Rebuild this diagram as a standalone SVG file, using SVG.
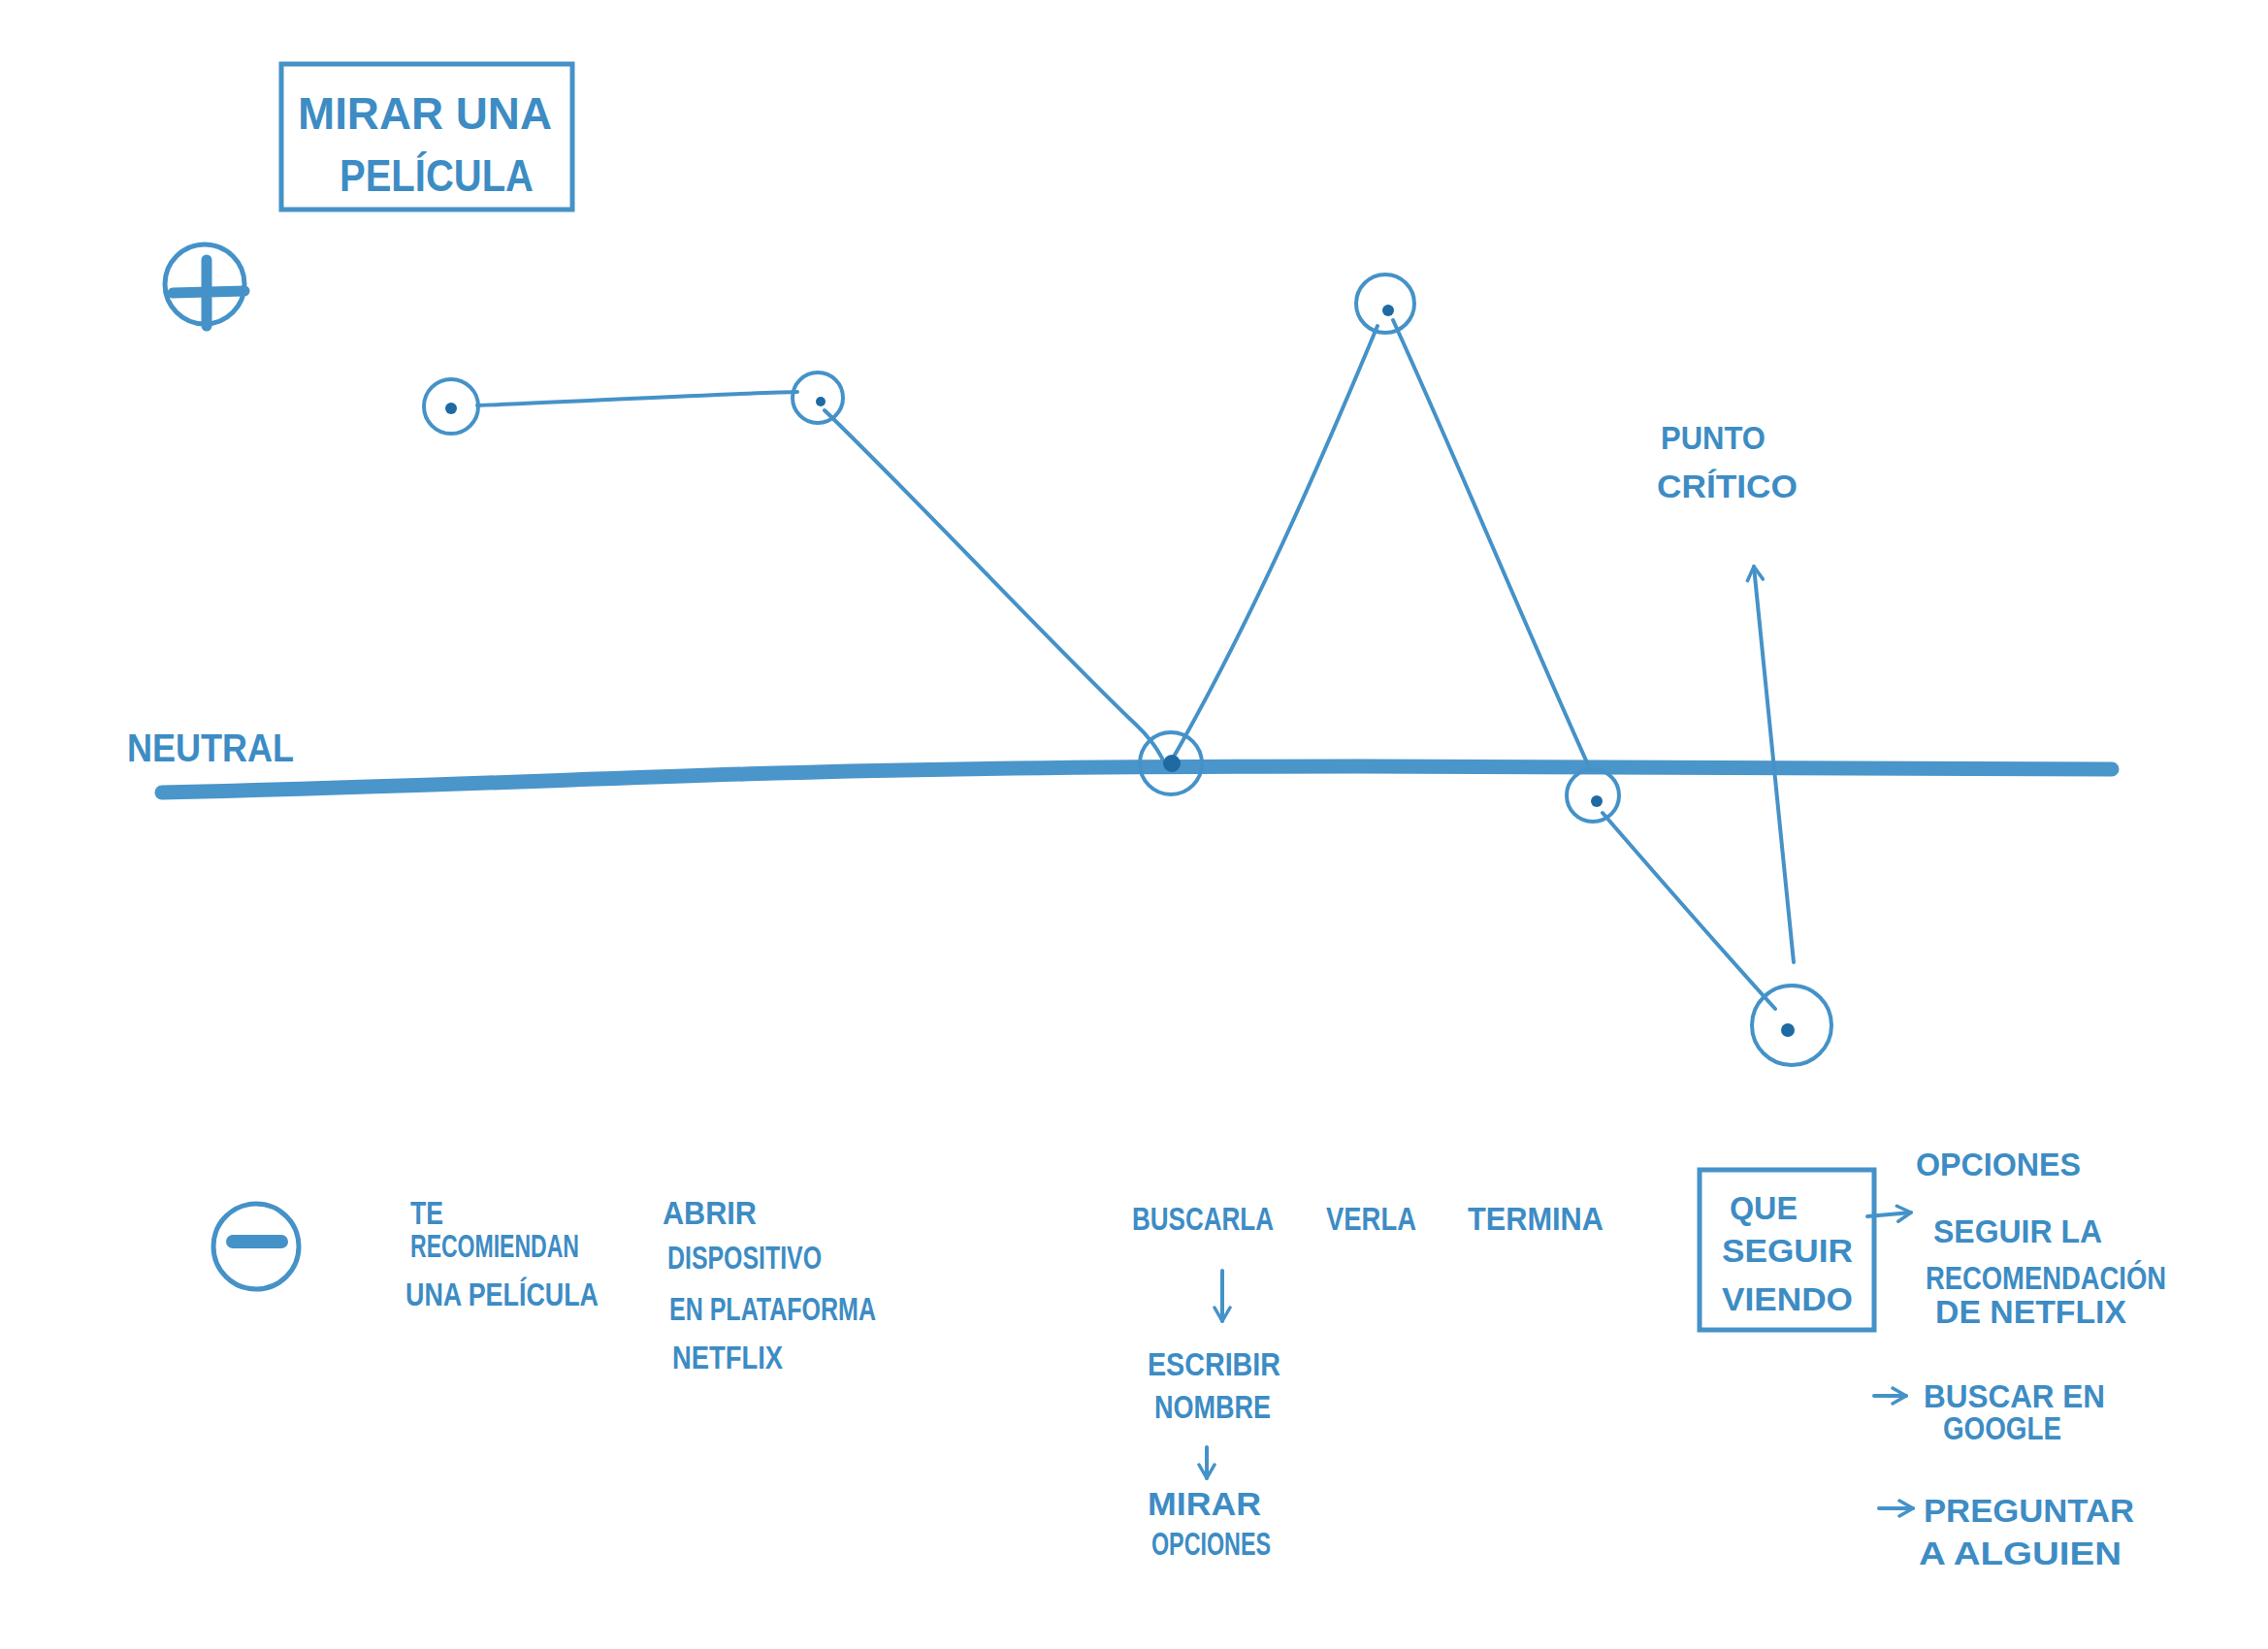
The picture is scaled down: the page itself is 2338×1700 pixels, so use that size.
<svg xmlns="http://www.w3.org/2000/svg" width="2338" height="1700" viewBox="0 0 2338 1700">
<defs>
<style>
.ink{fill:none;stroke:#4592c8;stroke-width:4;stroke-linecap:round;stroke-linejoin:round}
.box{fill:none;stroke:#4592c8;stroke-width:5}
.t{font-family:"Liberation Sans",Arial,sans-serif;fill:#3d8cc4;font-size:33px;font-weight:bold}
.big{font-size:46px}
.dot{fill:#1f6aa3}
</style>
<marker id="ah" viewBox="0 0 20 20" refX="16" refY="10" markerWidth="20" markerHeight="20" markerUnits="userSpaceOnUse" orient="auto">
<path d="M2,2 L16,10 L2,18" fill="none" stroke="#4592c8" stroke-width="3.5" stroke-linecap="round" stroke-linejoin="round"/>
</marker>
</defs>
<rect width="2338" height="1700" fill="#ffffff"/>

<g id="title">
<rect x="290" y="66" width="300" height="150" class="box"/>
<text class="t big" x="307" y="133" textLength="262" lengthAdjust="spacingAndGlyphs">MIRAR UNA</text>
<text class="t big" x="350" y="197" textLength="200" lengthAdjust="spacingAndGlyphs">PELÍCULA</text>
</g>

<g id="plus">
<circle cx="211" cy="293" r="41" class="ink" style="stroke-width:5"/>
<path d="M178,302 L252,300 M213,268 L213,336" class="ink" style="stroke-width:11"/>
</g>

<g id="minus">
<circle cx="264" cy="1285" r="44" class="ink" style="stroke-width:5"/>
<path d="M240,1280 L290,1280" class="ink" style="stroke-width:14"/>
</g>

<g id="neutral">
<path d="M167,817 C400,812 600,803 800,797 C1000,791 1193,790 1400,790 C1700,791 2000,793 2177,793" fill="none" stroke="#4a95ca" stroke-width="15" stroke-linecap="round"/>
<text class="t" x="131" y="785" style="font-size:40px" textLength="172" lengthAdjust="spacingAndGlyphs">NEUTRAL</text>
</g>

<g id="connectors">
<path d="M492,418 C600,414 740,406 822,404" class="ink"/>
<path d="M850,423 C950,520 1100,680 1170,746 C1185,760 1195,775 1200,786" class="ink"/>
<path d="M1210,780 C1290,640 1360,480 1420,336" class="ink"/>
<path d="M1436,330 C1500,470 1570,640 1640,795" class="ink"/>
<path d="M1652,838 C1710,905 1780,985 1830,1040" class="ink"/>
<path d="M1849,992 L1808,584" class="ink" marker-end="url(#ah)"/>
<path d="M1260,1310 L1260,1362" class="ink" marker-end="url(#ah)"/>
<path d="M1244,1492 L1244,1524" class="ink" marker-end="url(#ah)"/>
<path d="M1925,1254 L1970,1250" class="ink" marker-end="url(#ah)"/>
<path d="M1932,1439 L1965,1439" class="ink" marker-end="url(#ah)"/>
<path d="M1937,1555 L1972,1555" class="ink" marker-end="url(#ah)"/>
</g>

<g id="p1"><circle cx="465" cy="419" r="28" class="ink"/><circle cx="465" cy="421" r="6" class="dot"/></g>
<g id="p2"><circle cx="843" cy="410" r="26" class="ink"/><circle cx="846" cy="414" r="5" class="dot"/></g>
<g id="p3"><circle cx="1207" cy="787" r="32" class="ink"/><circle cx="1208" cy="787" r="9" class="dot"/></g>
<g id="p4"><circle cx="1428" cy="313" r="30" class="ink"/><circle cx="1431" cy="320" r="6" class="dot"/></g>
<g id="p5"><circle cx="1642" cy="820" r="27" class="ink"/><circle cx="1646" cy="826" r="6" class="dot"/></g>
<g id="p6"><circle cx="1847" cy="1057" r="41" class="ink"/><circle cx="1843" cy="1062" r="7" class="dot"/></g>

<g id="critico">
<text class="t" x="1712" y="463" textLength="108" lengthAdjust="spacingAndGlyphs">PUNTO</text>
<text class="t" x="1708" y="513" textLength="145" lengthAdjust="spacingAndGlyphs">CRÍTICO</text>
</g>

<g id="step1">
<text class="t" x="423" y="1262" textLength="34" lengthAdjust="spacingAndGlyphs">TE</text>
<text class="t" x="423" y="1296" textLength="174" lengthAdjust="spacingAndGlyphs">RECOMIENDAN</text>
<text class="t" x="418" y="1346" textLength="199" lengthAdjust="spacingAndGlyphs">UNA PELÍCULA</text>
</g>

<g id="step2">
<text class="t" x="683" y="1262" textLength="97" lengthAdjust="spacingAndGlyphs">ABRIR</text>
<text class="t" x="688" y="1308" textLength="159" lengthAdjust="spacingAndGlyphs">DISPOSITIVO</text>
<text class="t" x="690" y="1361" textLength="213" lengthAdjust="spacingAndGlyphs">EN PLATAFORMA</text>
<text class="t" x="693" y="1411" textLength="114" lengthAdjust="spacingAndGlyphs">NETFLIX</text>
</g>

<g id="step3">
<text class="t" x="1167" y="1268" textLength="146" lengthAdjust="spacingAndGlyphs">BUSCARLA</text>
<text class="t" x="1183" y="1418" textLength="137" lengthAdjust="spacingAndGlyphs">ESCRIBIR</text>
<text class="t" x="1190" y="1462" textLength="120" lengthAdjust="spacingAndGlyphs">NOMBRE</text>
<text class="t" x="1183" y="1562" textLength="117" lengthAdjust="spacingAndGlyphs">MIRAR</text>
<text class="t" x="1187" y="1603" textLength="123" lengthAdjust="spacingAndGlyphs">OPCIONES</text>
</g>

<g id="step4"><text class="t" x="1367" y="1268" textLength="93" lengthAdjust="spacingAndGlyphs">VERLA</text></g>
<g id="step5"><text class="t" x="1513" y="1268" textLength="140" lengthAdjust="spacingAndGlyphs">TERMINA</text></g>

<g id="step6">
<rect x="1752" y="1206" width="180" height="165" class="box"/>
<text class="t" x="1783" y="1257" textLength="70" lengthAdjust="spacingAndGlyphs">QUE</text>
<text class="t" x="1775" y="1301" textLength="135" lengthAdjust="spacingAndGlyphs">SEGUIR</text>
<text class="t" x="1775" y="1351" textLength="135" lengthAdjust="spacingAndGlyphs">VIENDO</text>
</g>

<g id="options">
<text class="t" x="1975" y="1212" textLength="170" lengthAdjust="spacingAndGlyphs">OPCIONES</text>
<text class="t" x="1993" y="1281" textLength="174" lengthAdjust="spacingAndGlyphs">SEGUIR LA</text>
<text class="t" x="1985" y="1329" textLength="248" lengthAdjust="spacingAndGlyphs">RECOMENDACIÓN</text>
<text class="t" x="1995" y="1364" textLength="197" lengthAdjust="spacingAndGlyphs">DE NETFLIX</text>
<text class="t" x="1983" y="1451" textLength="187" lengthAdjust="spacingAndGlyphs">BUSCAR EN</text>
<text class="t" x="2003" y="1484" textLength="122" lengthAdjust="spacingAndGlyphs">GOOGLE</text>
<text class="t" x="1983" y="1569" textLength="217" lengthAdjust="spacingAndGlyphs">PREGUNTAR</text>
<text class="t" x="1978" y="1613" textLength="209" lengthAdjust="spacingAndGlyphs">A ALGUIEN</text>
</g>
</svg>
